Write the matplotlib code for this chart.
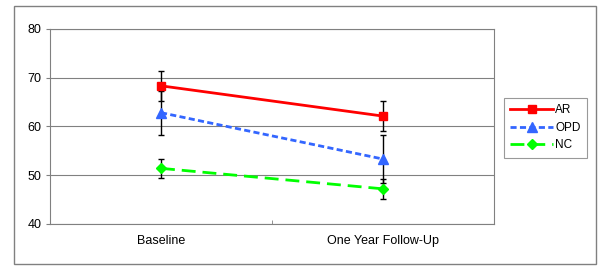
import matplotlib.pyplot as plt
from matplotlib.patches import Rectangle

plt.rcParams['font.family'] = ['Liberation Sans', 'DejaVu Sans']

categories = ['Baseline', 'One Year Follow-Up']
ar = [68.3, 62.1]
ar_err = [3.1, 3.1]
opd = [62.8, 53.3]
opd_err = [4.5, 5.0]
nc = [51.4, 47.2]
nc_err = [2.0, 2.1]

fig = plt.figure(figsize=(6.0, 2.71), dpi=100)
ax = fig.add_axes([50 / 600, 1 - 224 / 271, 444 / 600, (224 - 28.7) / 271])

# outer chart frame
fig.patches.append(Rectangle((14 / 600, 1 - 264 / 271), 582 / 600, 258 / 271,
                             transform=fig.transFigure, fill=False,
                             edgecolor='#808080', linewidth=1.0))

x = range(len(categories))
series = [
    (ar, ar_err, 'AR', '#ff0000', 's', '-', 5.5),
    (opd, opd_err, 'OPD', '#3366ff', '^', (0, (2.2, 1.2)), 7),
    (nc, nc_err, 'NC', '#00ff00', 'D', (0, (5, 2.5)), 5),
]
for vals, errs, name, col, mk, ls, ms in series:
    ax.errorbar(x, vals, yerr=errs, fmt='none', ecolor='black', elinewidth=1,
                capsize=2.5, capthick=1, zorder=2)
    ax.plot(x, vals, color=col, marker=mk, linestyle=ls, linewidth=2,
            markersize=ms, label=name, zorder=3)

ax.set_xlim(-0.5, 1.5)
ax.set_ylim(40, 80)
ax.set_yticks([40, 50, 60, 70, 80])
ax.set_xticks([0, 1])
ax.set_xticklabels(categories)
ax.set_xticks([0.5], minor=True)
ax.tick_params(axis='x', which='major', length=0, pad=8, labelsize=9)
ax.tick_params(axis='x', which='minor', length=3, direction='in', color='#808080')
ax.tick_params(axis='y', length=3, labelsize=9, color='#808080', pad=3)
ax.grid(axis='y', color='#808080', linewidth=0.8)
ax.set_axisbelow(True)
for s in ax.spines.values():
    s.set_color('#808080')
    s.set_linewidth(0.8)

leg = fig.legend(loc='upper left', bbox_to_anchor=(504 / 600, 1 - 98 / 271),
                 fontsize=8.5, frameon=True, fancybox=False, edgecolor='#808080',
                 handlelength=3.6, borderpad=0.55, labelspacing=0.45,
                 handletextpad=0.2, borderaxespad=0)
leg.get_frame().set_linewidth(0.8)

fig.savefig('out.png', dpi=100)
